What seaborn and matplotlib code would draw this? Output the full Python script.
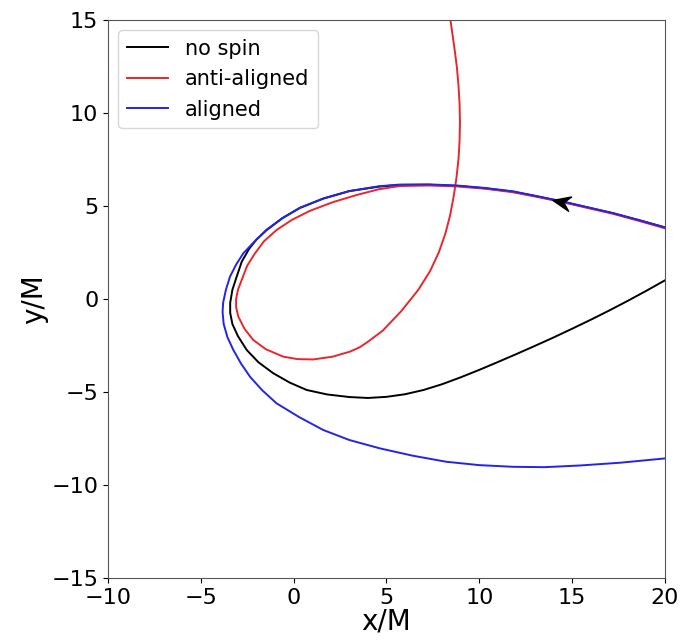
import numpy as np
import pandas as pd
import matplotlib
matplotlib.use("Agg")
import matplotlib.pyplot as plt
import seaborn as sns
from matplotlib.path import Path
from matplotlib.markers import MarkerStyle
from matplotlib.transforms import Affine2D

# ---- data ----
nospin_x = [20.0, 18.6, 17.2, 15.8, 14.5, 13.1, 11.8, 10.3, 8.8, 7.3, 5.7, 4.6, 3.0, 1.6, 0.34,
            -0.6, -1.45, -2.0, -2.4, -2.8, -3.07, -3.3, -3.42, -3.42, -3.3, -3.0, -2.53, -1.9,
            -1.1, -0.2, 0.7, 1.8, 3.0, 4.0, 5.0, 6.0, 7.0, 8.0, 9.0, 10.0, 11.0, 12.0, 13.0,
            14.0, 15.0, 16.0, 17.0, 18.0, 19.0, 20.0]
nospin_y = [3.85, 4.24, 4.61, 4.93, 5.23, 5.52, 5.77, 5.95, 6.08, 6.14, 6.13, 6.04, 5.8, 5.4, 4.9,
            4.35, 3.71, 3.2, 2.7, 2.0, 1.2, 0.5, -0.2, -0.75, -1.35, -2.0, -2.74, -3.4,
            -3.99, -4.5, -4.89, -5.13, -5.27, -5.32, -5.26, -5.12, -4.89, -4.58, -4.21, -3.81, -3.39, -2.96, -2.52,
            -2.07, -1.60, -1.12, -0.62, -0.10, 0.44, 1.0]

anti_x = [20.0, 18.6, 17.2, 15.8, 14.5, 13.1, 11.8, 10.3, 8.8, 7.3, 5.7, 4.6, 3.39, 2.1, 0.88,
          -0.1, -0.92, -1.6, -2.08, -2.5, -2.8, -3.0, -3.1, -3.1, -2.98, -2.65, -2.18, -1.5,
          -0.56, 0.2, 1.05, 2.1, 3.03, 3.55, 4.0, 4.8, 5.8, 6.72, 7.35, 7.82, 8.17, 8.43, 8.62,
          8.77, 8.88, 8.94, 8.96, 8.94, 8.88, 8.79, 8.66, 8.52, 8.43]
anti_y = [3.8, 4.2, 4.58, 4.9, 5.2, 5.49, 5.74, 5.93, 6.05, 6.1, 6.07, 5.9, 5.59, 5.2, 4.74,
          4.25, 3.71, 3.1, 2.46, 1.8, 1.02, 0.5, 0.0, -0.45, -0.95, -1.6, -2.2, -2.7,
          -3.1, -3.23, -3.25, -3.1, -2.83, -2.6, -2.3, -1.7, -0.65, 0.5, 1.5, 2.5, 3.5, 4.5, 5.5,
          6.5, 7.5, 8.5, 9.5, 10.5, 11.5, 12.5, 13.5, 14.5, 15.1]

aligned_x = [20.0, 18.6, 17.2, 15.8, 14.5, 13.1, 11.8, 10.3, 8.8, 7.3, 5.7, 4.6, 3.0, 1.6, 0.34,
             -0.6, -1.45, -2.1, -2.71, -3.1, -3.43, -3.65, -3.8, -3.83, -3.77, -3.57, -3.25, -2.85,
             -2.35, -1.7, -0.92, 0.3, 1.59, 3.0, 4.65, 6.4, 8.23, 10.0, 11.83, 13.5, 15.42,
             17.6, 20.0]
aligned_y = [3.85, 4.24, 4.62, 4.94, 5.24, 5.53, 5.79, 5.97, 6.1, 6.16, 6.15, 6.06, 5.8, 5.4, 4.9,
             4.35, 3.73, 3.1, 2.46, 1.85, 1.2, 0.5, -0.2, -0.7, -1.35, -2.05, -2.74, -3.45,
             -4.18, -4.9, -5.61, -6.35, -7.04, -7.58, -8.03, -8.42, -8.75, -8.93, -9.02, -9.04, -8.95,
             -8.8, -8.57]

series_names = ["no spin", "anti-aligned", "aligned"]
arrow_x = [14.45]
arrow_y = [5.24]

x_ticks = [-10, -5, 0, 5, 10, 15, 20]
y_ticks = [-15, -10, -5, 0, 5, 10, 15]

# ---- build table ----
frames = []
for name, xs, ys in zip(series_names, [nospin_x, anti_x, aligned_x], [nospin_y, anti_y, aligned_y]):
    frames.append(pd.DataFrame({"x": xs, "y": ys, "series": name}))
df = pd.concat(frames, ignore_index=True)

palette = {"no spin": "black", "anti-aligned": "#e8262b", "aligned": "#2424e8"}

plt.rcParams["font.family"] = ["DejaVu Sans"]
fig = plt.figure(figsize=(6.84, 6.43), dpi=100)
ax = fig.add_axes([0.158, 0.101, 0.814, 0.868])

sns.lineplot(data=df, x="x", y="y", hue="series", hue_order=series_names,
             palette=palette, sort=False, estimator=None, units="series",
             linewidth=1.4, ax=ax, legend=True)

# direction arrow (stealth shape)
verts = [(-1.0, 0.0), (0.8, 0.75), (0.15, 0.0), (0.8, -0.75), (-1.0, 0.0)]
codes = [Path.MOVETO, Path.LINETO, Path.LINETO, Path.LINETO, Path.CLOSEPOLY]
arrow_marker = MarkerStyle(Path(verts, codes), transform=Affine2D().rotate_deg(-12))
ax.plot(arrow_x, arrow_y, linestyle="none", marker=arrow_marker, markersize=14,
        color="black", zorder=5)

ax.set_xlim(-10, 20)
ax.set_ylim(-15, 15)
ax.set_xticks(x_ticks)
ax.set_yticks(y_ticks)
ax.tick_params(labelsize=16)
ax.set_xlabel("x/M", fontsize=20, labelpad=0)
ax.set_ylabel("y/M", fontsize=20, labelpad=2)
for s in ax.spines.values():
    s.set_color("#555555")

handles, labels = ax.get_legend_handles_labels()
ax.legend(handles, labels, loc="upper left", fontsize=15, frameon=True)

fig.savefig("out.png", dpi=100)
